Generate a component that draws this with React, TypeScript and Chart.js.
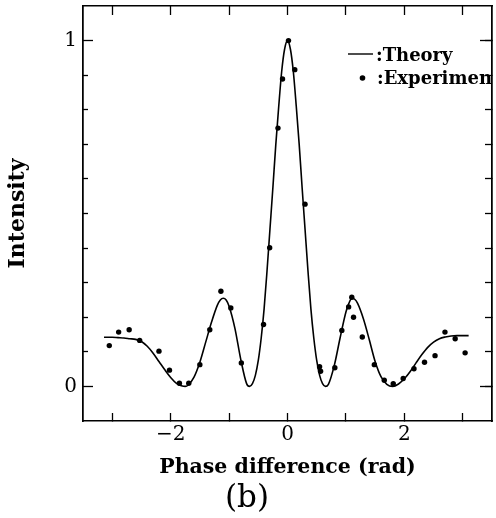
import React, { useEffect, useRef } from "react";
import { Chart, registerables } from "chart.js";

Chart.register(...registerables);

const SERIF = "'DejaVu Serif', 'Liberation Serif', serif";

// Theory curve (phase difference in rad, normalized intensity)
const theoryPhase = [
  -3.14, -3.0, -2.9, -2.8, -2.7, -2.6, -2.5, -2.4, -2.3, -2.2, -2.1, -2.0, -1.9, -1.8, -1.75, -1.7, -1.6, -1.5,
  -1.4, -1.3, -1.2, -1.15, -1.1, -1.05, -1.0, -0.9, -0.8, -0.7, -0.65, -0.6, -0.55, -0.5, -0.45, -0.4, -0.35,
  -0.3, -0.25, -0.2, -0.15, -0.1, -0.05, 0, 0.05, 0.1, 0.15, 0.2, 0.25, 0.3, 0.35, 0.4, 0.45, 0.5, 0.55, 0.6,
  0.65, 0.7, 0.8, 0.9, 1.0, 1.05, 1.1, 1.15, 1.2, 1.3, 1.4, 1.5, 1.6, 1.7, 1.8, 1.9, 2.0, 2.1, 2.2, 2.3, 2.4,
  2.5, 2.6, 2.7, 2.8, 2.9, 3.0, 3.1,
];
const theoryIntensity = [
  0.142, 0.142, 0.141, 0.14, 0.138, 0.136, 0.13, 0.116, 0.096, 0.072, 0.048, 0.026, 0.009, 0.001, 0.0, 0.004,
  0.027, 0.07, 0.128, 0.186, 0.235, 0.25, 0.255, 0.25, 0.232, 0.168, 0.078, 0.008, 0.0, 0.008, 0.032, 0.075,
  0.14, 0.225, 0.335, 0.455, 0.575, 0.7, 0.81, 0.91, 0.975, 1.0, 0.975, 0.91, 0.81, 0.7, 0.575, 0.455, 0.335,
  0.225, 0.14, 0.075, 0.032, 0.008, 0.0, 0.006, 0.06, 0.14, 0.215, 0.24, 0.255, 0.252, 0.24, 0.195, 0.135,
  0.072, 0.028, 0.006, 0.0, 0.007, 0.022, 0.043, 0.068, 0.092, 0.113, 0.128, 0.138, 0.143, 0.146, 0.147,
  0.147, 0.147,
];

// Experimental points
const expPhase = [
  -3.05, -2.89, -2.71, -2.53, -2.2, -2.02, -1.85, -1.69, -1.5, -1.33, -1.14, -0.97, -0.79, -0.41, -0.305,
  -0.163, -0.085, 0.017, 0.125, 0.3, 0.549, 0.566, 0.81, 0.93, 1.046, 1.1, 1.13, 1.28, 1.486, 1.656, 1.81,
  1.98, 2.165, 2.345, 2.525, 2.695, 2.87, 3.04,
];
const expIntensity = [
  0.118, 0.157, 0.164, 0.133, 0.102, 0.047, 0.009, 0.009, 0.063, 0.164, 0.275, 0.227, 0.068, 0.179, 0.401,
  0.747, 0.889, 1.0, 0.916, 0.527, 0.057, 0.044, 0.054, 0.162, 0.23, 0.258, 0.2, 0.143, 0.063, 0.018, 0.008,
  0.023, 0.051, 0.07, 0.089, 0.157, 0.138, 0.097,
];

const xTickValues = [-3, -2, -1, 0, 1, 2, 3];
const xLabelValues = [-2, 0, 2];
const yMajorTicks = [0, 1];
const yMinorTicks = [0.1, 0.2, 0.3, 0.4, 0.5, 0.6, 0.7, 0.8, 0.9];
const yRightTicks = [0, 0.1, 0.2, 0.3, 0.4, 0.5, 0.6, 0.7, 0.8, 0.9, 1.0];

const X_MIN = -3.5;
const X_MAX = 3.5;
const Y_MIN = -0.1;
const Y_MAX = 1.1;

const legendPlugin = {
  id: "customLegend",
  afterDraw(chart: any) {
    const { ctx, chartArea } = chart;
    const ds = chart.data.datasets;
    ctx.save();
    ctx.beginPath();
    ctx.rect(chartArea.left, chartArea.top, chartArea.right - chartArea.left, chartArea.bottom - chartArea.top);
    ctx.clip();
    const x0 = chartArea.left + 265;
    const y1 = chartArea.top + 48;
    const y2 = chartArea.top + 72;
    ctx.strokeStyle = "#000";
    ctx.lineWidth = 1.4;
    ctx.beginPath();
    ctx.moveTo(x0, y1);
    ctx.lineTo(x0 + 25, y1);
    ctx.stroke();
    ctx.fillStyle = "#000";
    ctx.beginPath();
    ctx.arc(x0 + 14.5, y2, 2.8, 0, Math.PI * 2);
    ctx.fill();
    ctx.font = `bold 18px ${SERIF}`;
    ctx.textBaseline = "middle";
    ctx.textAlign = "left";
    ctx.fillText(":" + ds[0].label, x0 + 28, y1 + 2);
    ctx.fillText(":" + ds[1].label, x0 + 29, y2 + 1);
    ctx.restore();
  },
};

function noPad(s: any) {
  s.paddingTop = 0;
  s.paddingBottom = 0;
  s.paddingLeft = 0;
  s.paddingRight = 0;
}

function markScale(axis: "x" | "y", position: string, ticks: number[], len: number, extra: any = {}) {
  return {
    type: "linear",
    axis,
    position,
    min: axis === "x" ? X_MIN : Y_MIN,
    max: axis === "x" ? X_MAX : Y_MAX,
    afterBuildTicks: (s: any) => {
      s.ticks = ticks.map((v) => ({ value: v }));
    },
    afterFit: (s: any) => {
      if (axis === "x") s.height = 0;
      else s.width = 0;
      noPad(s);
    },
    ticks: { display: false },
    grid: { drawOnChartArea: false, drawTicks: true, tickLength: -len, tickColor: "#000", tickWidth: 1.3 },
    border: { display: true, color: "#000", width: 1.5 },
    ...extra,
  };
}

export default function App() {
  const ref = useRef<HTMLCanvasElement | null>(null);

  useEffect(() => {
    if (!ref.current) return;
    const theory = theoryPhase.map((x, i) => ({ x, y: theoryIntensity[i] }));
    const exp = expPhase.map((x, i) => ({ x, y: expIntensity[i] }));

    const chart = new Chart(ref.current, {
      type: "scatter",
      data: {
        datasets: [
          {
            label: "Theory",
            data: theory,
            showLine: true,
            pointRadius: 0,
            borderColor: "#000",
            borderWidth: 1.6,
            cubicInterpolationMode: "monotone",
          } as any,
          {
            label: "Experiment",
            data: exp,
            showLine: false,
            pointRadius: 2.7,
            pointStyle: "circle",
            backgroundColor: "#000",
            borderColor: "#000",
            borderWidth: 0,
          },
        ],
      },
      options: {
        responsive: false,
        animation: false,
        layout: { padding: { top: 6, right: 2, left: 0, bottom: 0 } },
        plugins: {
          legend: { display: false },
          tooltip: { enabled: false },
          title: {
            display: true,
            text: "(b)",
            position: "bottom",
            color: "#000",
            font: { family: SERIF, size: 31, weight: "normal", lineHeight: 1.0 },
            padding: { top: 0, bottom: 4 },
          },
        },
        scales: {
          x: {
            type: "linear",
            position: "bottom",
            min: X_MIN,
            max: X_MAX,
            afterBuildTicks: (s: any) => {
              s.ticks = xTickValues.map((v) => ({ value: v }));
            },
            afterFit: (s: any) => {
              s.height = 62;
              noPad(s);
            },
            ticks: {
              autoSkip: false,
              maxRotation: 0,
              padding: 10,
              color: "#000",
              font: { family: SERIF, size: 20 },
              callback: (v: any) => (xLabelValues.includes(Number(v)) ? String(v).replace("-", "\u2212") : ""),
            },
            grid: { drawOnChartArea: false, drawTicks: true, tickLength: -8, tickColor: "#000", tickWidth: 1.3 },
            border: { display: true, color: "#000", width: 1.5 },
            title: {
              display: true,
              text: "Phase difference (rad)",
              color: "#000",
              font: { family: SERIF, size: 20.5, weight: "bold" },
              padding: { top: 0, bottom: 3 },
            },
          },
          xTop: markScale("x", "top", xTickValues, 9),
          y: {
            type: "linear",
            position: "left",
            weight: 1,
            min: Y_MIN,
            max: Y_MAX,
            afterBuildTicks: (s: any) => {
              s.ticks = yMajorTicks.map((v) => ({ value: v }));
            },
            afterFit: (s: any) => {
              s.width = 83;
              noPad(s);
            },
            ticks: {
              autoSkip: false,
              padding: 16,
              color: "#000",
              font: { family: SERIF, size: 20 },
              callback: (v: any) => String(v),
            },
            grid: { drawOnChartArea: false, drawTicks: true, tickLength: -10, tickColor: "#000", tickWidth: 1.3 },
            border: { display: true, color: "#000", width: 1.5 },
            title: {
              display: true,
              text: "Intensity",
              color: "#000",
              font: { family: SERIF, size: 22, weight: "bold" },
              padding: { top: 5, bottom: 0 },
            },
          },
          yMinor: markScale("y", "left", yMinorTicks, 5, { weight: 0 }),
          yRight: markScale("y", "right", yRightTicks, 7),
          yRightMajor: markScale("y", "right", yMajorTicks, 12, { weight: 1 }),
        } as any,
      },
      plugins: [legendPlugin],
    });
    return () => chart.destroy();
  }, []);

  return (
    <div style={{ position: "absolute", left: 0, top: 0, width: 496, height: 518, background: "#fff" }}>
      <canvas ref={ref} width={496} height={518} style={{ display: "block" }} />
    </div>
  );
}
